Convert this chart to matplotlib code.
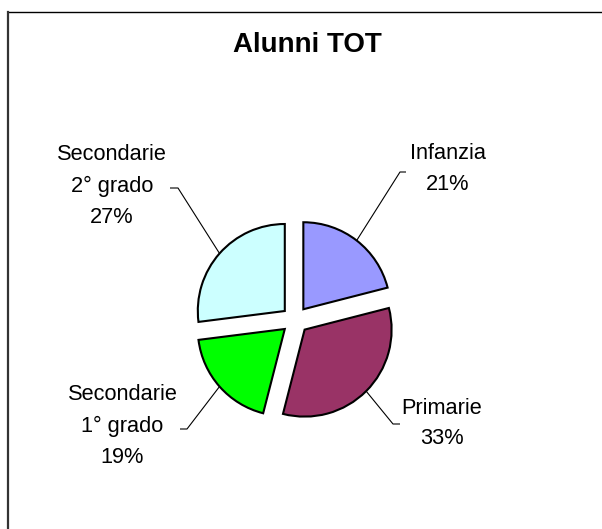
import numpy as np
import matplotlib
matplotlib.use("Agg")
import matplotlib.pyplot as plt
from matplotlib.lines import Line2D

# ---- data ----
categories = ["Infanzia", "Primarie", "Secondarie\n1° grado", "Secondarie\n2° grado"]
percentages = [21, 33, 19, 27]
colors = ["#9999FF", "#993366", "#00FF00", "#CCFFFF"]
title = "Alunni TOT"

# ---- layout (pixel space, y up) ----
W, H = 602, 529
center = (295, H - 320)
radius = 87
explode_px = 13.6

# label centers and leader elbow points (pixels, y down in reference -> converted)
label_pos = [(448, 169), (441.5, 423.5), (122.5, 426), (112, 186)]
elbow_pos = [(400, 172), (393, 424), (187, 429), (178, 188)]
elbow_end = [(406, 172), (400, 424), (180, 429), (170, 188)]

plt.rcParams['font.family'] = ['Liberation Sans', 'DejaVu Sans']

fig = plt.figure(figsize=(W / 100, H / 100), dpi=100)
ax = fig.add_axes([0, 0, 1, 1])

wedges, _ = ax.pie(percentages, colors=colors, startangle=90, counterclock=False,
                   radius=radius, center=center,
                   explode=[explode_px] * len(percentages),
                   wedgeprops=dict(edgecolor='black', linewidth=1.5))
ax.set_xlim(0, W)
ax.set_ylim(0, H)
ax.set_aspect('equal')
ax.axis('off')

for w, cat, pct, lp, ep, ee in zip(wedges, categories, percentages, label_pos, elbow_pos, elbow_end):
    mid = np.deg2rad((w.theta1 + w.theta2) / 2)
    cx, cy = w.center
    sx = cx + radius * np.cos(mid)
    sy = cy + radius * np.sin(mid)
    ax.plot([sx, ep[0], ee[0]], [sy, H - ep[1], H - ee[1]], color='black', linewidth=0.8,
            solid_capstyle='butt', zorder=1)
    ax.text(lp[0], H - lp[1], f"{cat}\n{pct}%", ha='center', va='center',
            multialignment='center', fontsize=15.7, linespacing=1.62, color='black')

ax.text(307, H - 45, title, ha='center', va='center', fontsize=20, fontweight='bold')

# frame lines (top and left)
fig.add_artist(Line2D([7.5 / W, 1], [1 - 11.5 / H, 1 - 11.5 / H], color='black', linewidth=1.0,
                      transform=fig.transFigure))
fig.add_artist(Line2D([7.5 / W, 7.5 / W], [0, 1 - 11.5 / H], color='#333333', linewidth=1.6,
                      transform=fig.transFigure))

fig.savefig("out.png", dpi=100, facecolor='white')
